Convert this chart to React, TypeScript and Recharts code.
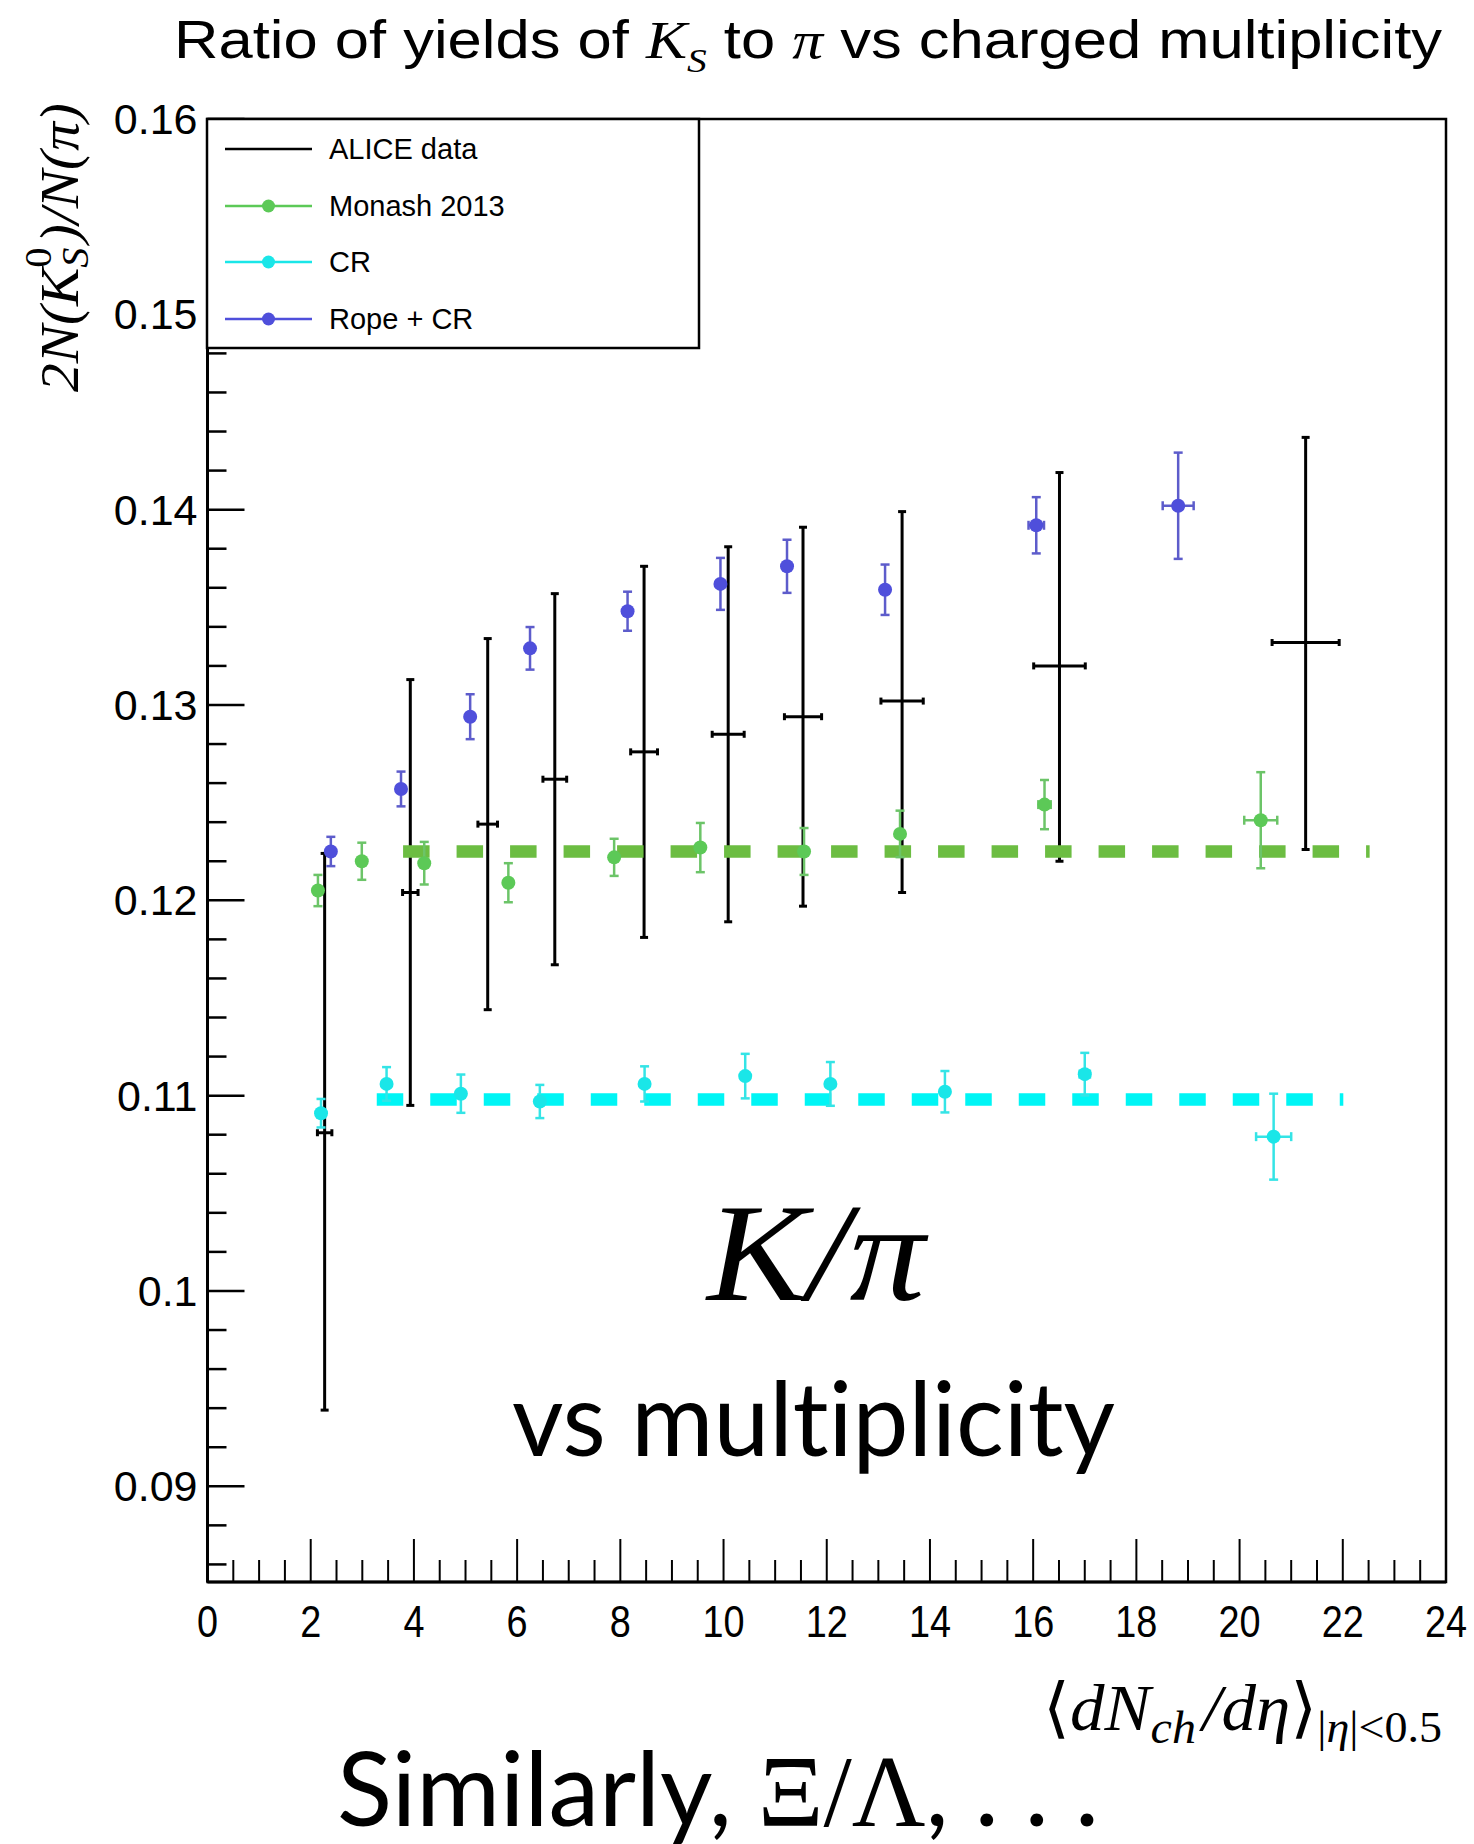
import React from 'react';
import { ScatterChart, Scatter, XAxis, YAxis, ErrorBar, ReferenceLine, ReferenceArea } from 'recharts';

// ALICE data: central value with asymmetric vertical range, horizontal error
const aliceX = [2.27, 3.93, 5.43, 6.73, 8.46, 10.09, 11.54, 13.46, 16.51, 21.28];
const aliceY = [0.1081, 0.1204, 0.1239, 0.1262, 0.1276, 0.1285, 0.1294, 0.1302, 0.132, 0.1332];
const aliceLo = [0.0939, 0.1095, 0.1144, 0.1167, 0.1181, 0.1189, 0.1197, 0.1204, 0.122, 0.1226];
const aliceHi = [0.1224, 0.1313, 0.1334, 0.1357, 0.1371, 0.1381, 0.1391, 0.1399, 0.1419, 0.1437];
const aliceXErr = [0.14, 0.15, 0.19, 0.23, 0.26, 0.31, 0.36, 0.41, 0.5, 0.65];

// Monash 2013
const monashX = [2.14, 2.99, 4.2, 5.83, 7.88, 9.55, 11.56, 13.42, 16.22, 20.41];
const monashY = [0.1205, 0.122, 0.1219, 0.1209, 0.1222, 0.1227, 0.1225, 0.1234, 0.1249, 0.1241];
const monashYErr = [0.0008, 0.00095, 0.00109, 0.001, 0.00095, 0.00126, 0.0012, 0.00119, 0.00126, 0.00246];
const monashXErr = [0, 0, 0, 0, 0, 0, 0, 0, 0.12, 0.32];

// CR
const crX = [2.2, 3.47, 4.91, 6.44, 8.47, 10.42, 12.07, 14.29, 17.0, 20.66];
const crY = [0.1091, 0.1106, 0.1101, 0.1097, 0.1106, 0.111, 0.1106, 0.1102, 0.1111, 0.1079];
const crYErr = [0.00073, 0.00086, 0.00098, 0.00085, 0.0009, 0.00114, 0.00112, 0.00106, 0.00109, 0.0022];
const crXErr = [0, 0, 0, 0, 0, 0, 0, 0, 0.1, 0.34];

// Rope + CR
const ropeX = [2.39, 3.75, 5.09, 6.25, 8.14, 9.94, 11.23, 13.13, 16.06, 18.81];
const ropeY = [0.1225, 0.1257, 0.1294, 0.1329, 0.1348, 0.1362, 0.1371, 0.1359, 0.1392, 0.1402];
const ropeYErr = [0.00075, 0.00089, 0.00115, 0.00109, 0.001, 0.00133, 0.00136, 0.00129, 0.00144, 0.00272];
const ropeXErr = [0, 0, 0, 0, 0, 0, 0, 0, 0.15, 0.3];

// flat dashed lines (start x, end x, level)
const monashFit = [3.79, 22.52, 0.1225];
const crFit = [3.28, 22.01, 0.1098];

const xMajorTicks = [0, 2, 4, 6, 8, 10, 12, 14, 16, 18, 20, 22, 24];
const xMajorLabels = ['0', '2', '4', '6', '8', '10', '12', '14', '16', '18', '20', '22', '24'];
const yMajorTicks = [0.09, 0.1, 0.11, 0.12, 0.13, 0.14, 0.15, 0.16];
const yMajorLabels = ['0.09', '0.1', '0.11', '0.12', '0.13', '0.14', '0.15', '0.16'];

const legendNames = ['ALICE data', 'Monash 2013', 'CR', 'Rope + CR'];

const X_DOMAIN: [number, number] = [0, 24];
const Y_DOMAIN: [number, number] = [0.0851, 0.16];

// minor ticks
const xTicks: number[] = [];
for (let i = 0; i <= 48; i++) xTicks.push(i * 0.5);
const yTicks: number[] = [];
for (let i = 0; i <= 37; i++) yTicks.push(+(0.086 + i * 0.002).toFixed(3));

const C = {
  monashDot: '#5cc957',
  monashBar: '#6cc468',
  monashFit: '#6cbd42',
  crDot: '#1ae6e8',
  crBar: '#34e4e6',
  crFit: '#00f5f5',
  ropeDot: '#4f4fdb',
  ropeBar: '#5d5ccb',
};

const aliceData = aliceX.map((x, i) => ({
  x,
  y: aliceY[i],
  ey: [aliceY[i] - aliceLo[i], aliceHi[i] - aliceY[i]],
  ex: aliceXErr[i],
}));
const monashData = monashX.map((x, i) => ({ x, y: monashY[i], ey: monashYErr[i], ex: monashXErr[i] }));
const crData = crX.map((x, i) => ({ x, y: crY[i], ey: crYErr[i], ex: crXErr[i] }));
const ropeData = ropeX.map((x, i) => ({ x, y: ropeY[i], ey: ropeYErr[i], ex: ropeXErr[i] }));

const SANS = '"Liberation Sans", Arial, Helvetica, sans-serif';
const SERIF = '"Liberation Serif", "Times New Roman", "DejaVu Serif", serif';
const AVENIR = 'Lato, "Open Sans", sans-serif';

const XTick = (props: any) => {
  const { x, y, payload } = props;
  const idx = xMajorTicks.indexOf(payload.value);
  const major = idx >= 0;
  return (
    <g>
      <line x1={x} x2={x} y1={y} y2={y - (major ? 43 : 22)} stroke="#000" strokeWidth={2} />
      {major && (
        <text
          transform={`translate(${x},${y + 55}) scale(0.86,1)`}
          textAnchor="middle"
          fontSize={44}
          fontFamily={SANS}
          fill="#000"
        >
          {xMajorLabels[idx]}
        </text>
      )}
    </g>
  );
};

const YTick = (props: any) => {
  const { x, y, payload } = props;
  const idx = yMajorTicks.findIndex((t) => Math.abs(t - payload.value) < 1e-6);
  const major = idx >= 0;
  return (
    <g>
      <line x1={x} x2={x + (major ? 37 : 19)} y1={y} y2={y} stroke="#000" strokeWidth={2.5} />
      {major && (
        <text x={x - 10} y={y + 15} textAnchor="end" fontSize={43} fontFamily={SANS} fill="#000">
          {yMajorLabels[idx]}
        </text>
      )}
    </g>
  );
};

const dot = (color: string) => (p: any) => <circle cx={p.cx} cy={p.cy} r={7} fill={color} />;
const noMarker = () => <g />;

function Overlay() {
  const rows = [149, 206, 262, 319];
  const colors = ['#000', C.monashDot, C.crDot, C.ropeDot];
  return (
    <svg width={1474} height={1844} style={{ position: 'absolute', left: 0, top: 0, pointerEvents: 'none' }}>
      {/* title */}
      <text x={174} y={58} fontSize={53} fontFamily={SANS} textLength={1268} lengthAdjust="spacingAndGlyphs" fill="#000">
        {'Ratio of yields of '}
        <tspan fontFamily={SERIF} fontStyle="italic">K</tspan>
        <tspan fontFamily={SERIF} fontStyle="italic" fontSize={34} dy={14}>S</tspan>
        <tspan dy={-14}>{' to '}</tspan>
        <tspan fontFamily={SERIF} fontStyle="italic">π</tspan>
        {' vs charged multiplicity'}
      </text>

      {/* y axis title */}
      <text
        transform="translate(78,392) rotate(-90)"
        fontSize={54}
        fontFamily={SERIF}
        fontStyle="italic"
        textLength={289}
        lengthAdjust="spacingAndGlyphs"
        fill="#000"
      >
        {'2N(K'}
        <tspan fontSize={38} dy={10}>S</tspan>
        <tspan fontSize={38} dx={-19} dy={-37} fontStyle="normal">0</tspan>
        <tspan dx={4} dy={27}>{')/N(π)'}</tspan>
      </text>

      {/* x axis title */}
      <text x={1043} y={1730} fontSize={66} fontFamily={SERIF} textLength={399} lengthAdjust="spacingAndGlyphs" fill="#000">
        {'⟨'}
        <tspan fontStyle="italic">dN</tspan>
        <tspan fontStyle="italic" fontSize={46} dy={13}>ch</tspan>
        <tspan fontStyle="italic" dx={6} dy={-13}>{'/dη'}</tspan>
        <tspan>{'⟩'}</tspan>
        <tspan fontSize={44} dy={12}>|</tspan>
        <tspan fontSize={44} fontStyle="italic">η</tspan>
        <tspan fontSize={44}>{'|<0.5'}</tspan>
      </text>

      {/* legend */}
      <rect x={207} y={119} width={492} height={229} fill="#fff" stroke="#000" strokeWidth={2.5} />
      {legendNames.map((name, i) => (
        <g key={name}>
          <line x1={225} x2={312} y1={rows[i]} y2={rows[i]} stroke={colors[i]} strokeWidth={2.5} />
          {i > 0 && <circle cx={268.5} cy={rows[i]} r={6.5} fill={colors[i]} />}
          <text x={329} y={rows[i] + 10} fontSize={29} fontFamily={SANS} fill="#000">
            {name}
          </text>
        </g>
      ))}

      {/* slide annotations */}
      <text x={707} y={1300} fontSize={139} fontFamily={SERIF} fontStyle="italic" textLength={218} lengthAdjust="spacingAndGlyphs" fill="#000">
        {'K/π'}
      </text>
      <text
        x={512}
        y={1456}
        fontSize={102}
        fontFamily={AVENIR}
        textLength={603}
        lengthAdjust="spacingAndGlyphs"
        fill="#000"
        style={{ fontVariantLigatures: 'none' }}
      >
        vs multiplicity
      </text>
      <text
        x={337}
        y={1826}
        fontSize={102}
        fontFamily={AVENIR}
        textLength={762}
        lengthAdjust="spacingAndGlyphs"
        fill="#000"
        style={{ fontVariantLigatures: 'none' }}
      >
        {'Similarly, '}
        <tspan fontFamily={SERIF}>{'Ξ/Λ'}</tspan>
        {', . . .'}
      </text>
    </svg>
  );
}

export default function App() {
  return (
    <div style={{ position: 'relative', width: 1474, height: 1844, background: '#fff' }}>
      <style>{'body{margin:0}'}</style>
      <ScatterChart width={1474} height={1844} margin={{ top: 119, right: 28, bottom: 162, left: 0 }}>
        <XAxis
          type="number"
          dataKey="x"
          domain={X_DOMAIN}
          allowDataOverflow
          ticks={xTicks}
          interval={0}
          tick={<XTick />}
          tickLine={false}
          tickSize={0}
          tickMargin={0}
          height={100}
          axisLine={{ stroke: '#000', strokeWidth: 3 }}
        />
        <YAxis
          type="number"
          dataKey="y"
          domain={Y_DOMAIN}
          allowDataOverflow
          ticks={yTicks}
          interval={0}
          tick={<YTick />}
          tickLine={false}
          tickSize={0}
          tickMargin={0}
          width={207.5}
          axisLine={{ stroke: '#000', strokeWidth: 3 }}
        />
        <ReferenceArea
          x1={X_DOMAIN[0]}
          x2={X_DOMAIN[1]}
          y1={Y_DOMAIN[0]}
          y2={Y_DOMAIN[1]}
          fill="none"
          fillOpacity={0}
          stroke="#000"
          strokeWidth={2.5}
        />

        <Scatter data={aliceData} shape={noMarker} isAnimationActive={false}>
          <ErrorBar dataKey="ey" direction="y" width={4} stroke="#000" strokeWidth={3} />
          <ErrorBar dataKey="ex" direction="x" width={3.5} stroke="#000" strokeWidth={3} />
        </Scatter>

        <ReferenceLine
          segment={[{ x: monashFit[0], y: monashFit[2] }, { x: monashFit[1], y: monashFit[2] }]}
          stroke={C.monashFit}
          strokeWidth={12.5}
          strokeDasharray="26.5 27"
        />
        <ReferenceLine
          segment={[{ x: crFit[0], y: crFit[2] }, { x: crFit[1], y: crFit[2] }]}
          stroke={C.crFit}
          strokeWidth={12.5}
          strokeDasharray="26.5 27"
        />

        <Scatter data={monashData} shape={dot(C.monashDot)} isAnimationActive={false}>
          <ErrorBar dataKey="ey" direction="y" width={4.5} stroke={C.monashBar} strokeWidth={2.5} />
          <ErrorBar dataKey="ex" direction="x" width={4.5} stroke={C.monashBar} strokeWidth={2.5} />
        </Scatter>
        <Scatter data={crData} shape={dot(C.crDot)} isAnimationActive={false}>
          <ErrorBar dataKey="ey" direction="y" width={4.5} stroke={C.crBar} strokeWidth={2.5} />
          <ErrorBar dataKey="ex" direction="x" width={4.5} stroke={C.crBar} strokeWidth={2.5} />
        </Scatter>
        <Scatter data={ropeData} shape={dot(C.ropeDot)} isAnimationActive={false}>
          <ErrorBar dataKey="ey" direction="y" width={4.5} stroke={C.ropeBar} strokeWidth={2.5} />
          <ErrorBar dataKey="ex" direction="x" width={4.5} stroke={C.ropeBar} strokeWidth={2.5} />
        </Scatter>
      </ScatterChart>
      <Overlay />
    </div>
  );
}
